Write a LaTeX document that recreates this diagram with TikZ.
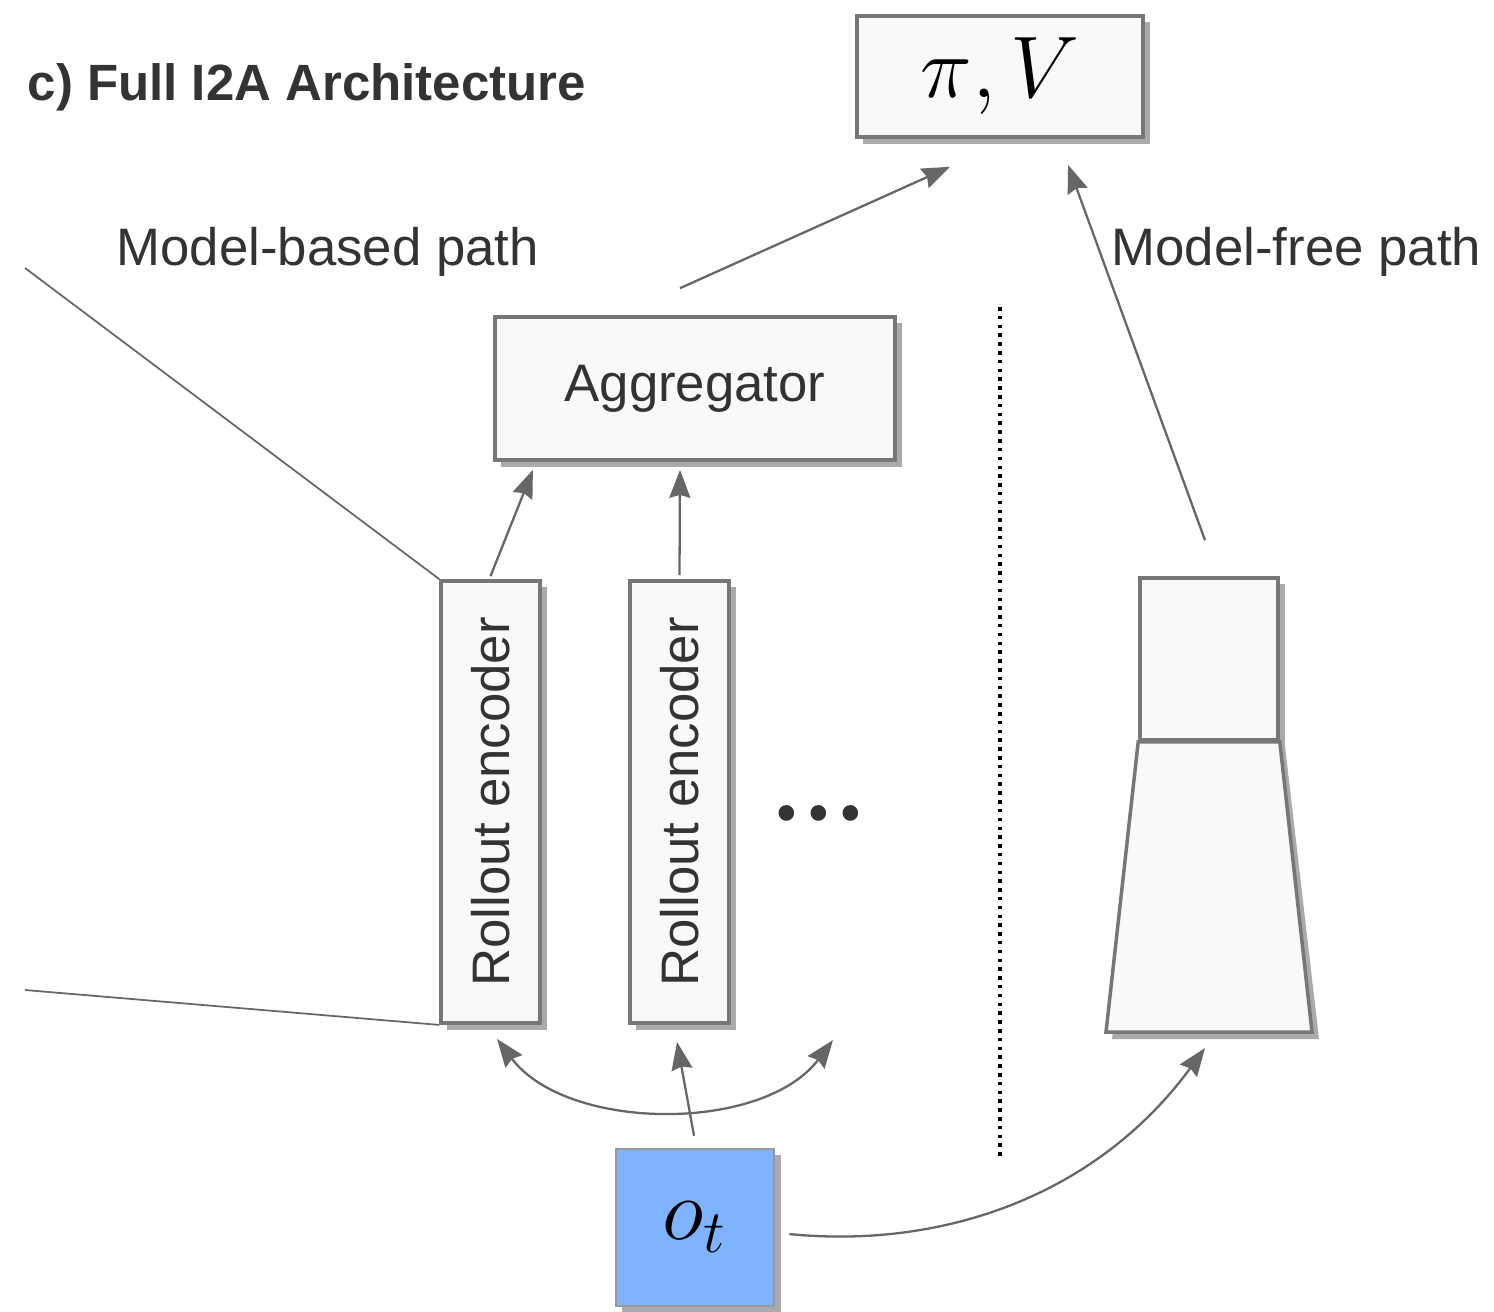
\documentclass[tikz,border=0pt]{standalone}
\usepackage{fontspec}
\newfontfamily\rob{Liberation Sans}
\newfontfamily\dotsfont{Poppins}
\usetikzlibrary{arrows.meta,shadows,calc}
\definecolor{boxline}{HTML}{777777}
\definecolor{boxfill}{HTML}{F9F9F9}
\definecolor{shadowc}{HTML}{AAAAAA}
\definecolor{arrc}{HTML}{666666}
\definecolor{txt}{HTML}{333333}
\definecolor{obsblue}{RGB}{128,179,255}
\definecolor{obsline}{HTML}{999999}
\begin{document}
\begin{tikzpicture}[x=0.01cm,y=-0.01cm,
  box/.style={draw=boxline, fill=boxfill, line width=1pt, inner sep=0pt,
    drop shadow={shadow xshift=0.065cm, shadow yshift=-0.065cm, fill=shadowc, opacity=1}},
  lbl/.style={font=\rob\fontsize{15}{18}\selectfont, text=txt},
  mathlbl/.style={font=\fontsize{24}{28}\selectfont, text=black},
  arr/.style={draw=arrc, line width=0.65pt, -{Stealth[length=0.28cm, width=0.21cm, inset=0.03cm]}},
  dblarr/.style={draw=arrc, line width=0.65pt, {Stealth[length=0.28cm, width=0.21cm, inset=0.03cm]}-{Stealth[length=0.28cm, width=0.21cm, inset=0.03cm]}},
  thinl/.style={draw=arrc, line width=0.5pt}]
\useasboundingbox (0,0) rectangle (1494,1311);

% title and path labels
\node[anchor=base west, inner sep=0pt, font=\rob\bfseries\fontsize{14.5}{17}\selectfont, text=txt] (title) at (27,100) {c) Full I2A Architecture};
\node[lbl, anchor=base west, inner sep=0pt] (mbp) at (116,265) {Model-based path};
\node[lbl, anchor=base west, inner sep=0pt] (mfp) at (1111,265) {Model-free path};

% boxes
\node[box, lbl, minimum width=2.86cm, minimum height=1.21cm] (pv) at (1000,76.5) {};
\node[mathlbl] (pvtext) at (1000,76.5) {$\pi, V$};
\node[box, lbl, minimum width=4.00cm, minimum height=1.43cm] (agg) at (695,388.5) {Aggregator};
\node[box, lbl, minimum width=0.99cm, minimum height=4.42cm] (re1) at (490.5,802) {\rotatebox{90}{Rollout encoder}};
\node[box, lbl, minimum width=0.99cm, minimum height=4.42cm] (re2) at (679.5,802) {\rotatebox{90}{Rollout encoder}};
\node[text=txt, font=\dotsfont\fontsize{36}{40}\selectfont, inner sep=0pt] (dots) at (819,813) {\makebox[0.32cm]{.}\makebox[0.32cm]{.}\makebox[0.32cm]{.}};

% model-free tower
\node[box, minimum width=1.38cm, minimum height=1.62cm] (mftop) at (1209,659) {};
\fill[shadowc] (1146,746) -- (1285,746) -- (1319,1039) -- (1112,1039) -- cycle;
\draw[draw=boxline, fill=boxfill, line width=1pt, line join=miter] (mftop.south west) -- (mftop.south east) -- (1312,1032) -- (1106,1032) -- cycle;
\coordinate (mfbot) at (1209,1032);

% observation
\node[box, draw=obsline, line width=0.7pt, fill=obsblue, minimum width=1.58cm, minimum height=1.57cm] (ot) at (695,1227.5) {};
\node[mathlbl] (ottext) at (695,1227.5) {$o_t$};

% separator
\coordinate (sepT) at (1000,307);
\coordinate (sepB) at (1000,1160);
\draw[black, line width=0.035cm, dash pattern=on 0.035cm off 0.053cm] (sepT) -- (sepB);

% lines from the left
\coordinate (lt) at (25,268);
\coordinate (lb) at (25,990);
\draw[thinl] (lt) -- (re1.north west);
\draw[thinl] (lb) -- (re1.south west);

% arrows
\draw[arr] ([xshift=-0.15cm,yshift=0.27cm]agg.north) -- ([xshift=-0.5cm,yshift=-0.28cm]pv.south);
\draw[arr] ([xshift=-0.04cm,yshift=0.36cm]mftop.north) -- ([xshift=0.68cm,yshift=-0.26cm]pv.south);
\draw[arr] ([yshift=0.03cm]re1.north) -- ([xshift=-1.62cm,yshift=-0.08cm]agg.south);
\draw[arr] ([yshift=0.04cm]re2.north) -- ([xshift=-0.15cm,yshift=-0.08cm]agg.south);
\draw[arr] ([xshift=-0.01cm,yshift=0.12cm]ot.north) -- ([xshift=-0.025cm,yshift=-0.17cm]re2.south);
\coordinate (moreenc) at (833,1040);
\draw[dblarr] ([xshift=0.065cm,yshift=-0.14cm]re1.south) .. controls +(70,93) and +(-70,93) .. (moreenc);
\draw[arr] ([xshift=0.14cm,yshift=-0.065cm]ot.east) .. controls +(150,15) and +(-110,150) .. ([xshift=-0.04cm,yshift=-0.16cm]mfbot);
\end{tikzpicture}
\end{document}
